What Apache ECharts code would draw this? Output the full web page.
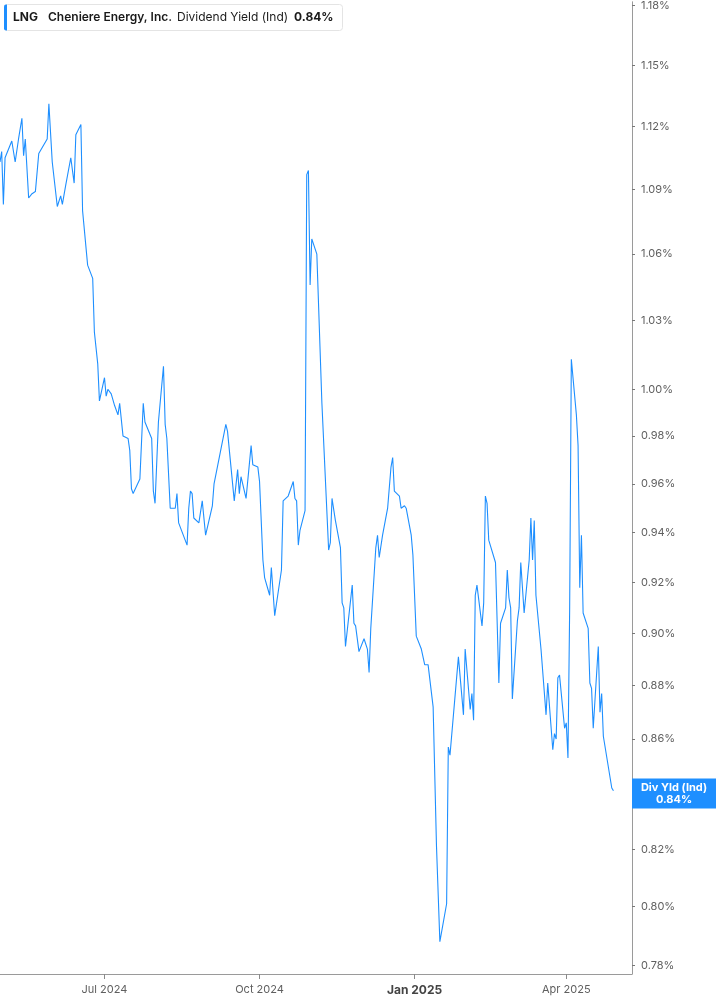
<!DOCTYPE html>
<html>
<head>
<meta charset="utf-8">
<script src="https://cdn.jsdelivr.net/npm/echarts@6/dist/echarts.min.js"></script>
<style>
html,body{margin:0;padding:0;background:#ffffff;}
#chart{width:717px;height:1005px;}
</style>
</head>
<body>
<div id="chart"></div>
<script>
// ---- data ----
const dates = [
'2024-04-30','2024-05-01','2024-05-02','2024-05-03','2024-05-07','2024-05-09','2024-05-11','2024-05-13','2024-05-14','2024-05-15',
'2024-05-17','2024-05-19','2024-05-21','2024-05-23','2024-05-28','2024-05-29','2024-05-31','2024-06-03','2024-06-05','2024-06-06',
'2024-06-08','2024-06-11','2024-06-13','2024-06-14','2024-06-17','2024-06-18','2024-06-21','2024-06-24','2024-06-25','2024-06-27',
'2024-06-28','2024-07-01','2024-07-02','2024-07-03','2024-07-05','2024-07-07','2024-07-09','2024-07-10','2024-07-12','2024-07-15',
'2024-07-16','2024-07-17','2024-07-18','2024-07-22','2024-07-24','2024-07-25','2024-07-29','2024-07-30','2024-07-31','2024-08-02',
'2024-08-05','2024-08-06','2024-08-07','2024-08-09','2024-08-12','2024-08-13','2024-08-14','2024-08-19','2024-08-20','2024-08-21',
'2024-08-22','2024-08-23','2024-08-26','2024-08-28','2024-08-30','2024-09-03','2024-09-04','2024-09-05','2024-09-11','2024-09-12',
'2024-09-16','2024-09-18','2024-09-19','2024-09-20','2024-09-23','2024-09-26','2024-09-27','2024-09-30','2024-10-01','2024-10-03',
'2024-10-04','2024-10-07','2024-10-08','2024-10-10','2024-10-14','2024-10-15','2024-10-18','2024-10-21','2024-10-22','2024-10-23',
'2024-10-24','2024-10-25','2024-10-28','2024-10-29','2024-10-30','2024-10-31','2024-11-01','2024-11-04','2024-11-07','2024-11-11',
'2024-11-12','2024-11-13','2024-11-15','2024-11-18','2024-11-19','2024-11-20','2024-11-21','2024-11-25','2024-11-26','2024-11-27',
'2024-11-29','2024-12-02','2024-12-04','2024-12-05','2024-12-06','2024-12-09','2024-12-10','2024-12-11','2024-12-13','2024-12-16',
'2024-12-17','2024-12-18','2024-12-19','2024-12-20','2024-12-23','2024-12-24','2024-12-26','2024-12-27','2024-12-30','2024-12-31',
'2025-01-02','2025-01-05','2025-01-06','2025-01-07','2025-01-09','2025-01-12','2025-01-14','2025-01-16','2025-01-20','2025-01-21',
'2025-01-22','2025-01-27','2025-01-30','2025-01-31','2025-02-03','2025-02-04','2025-02-05','2025-02-06','2025-02-07','2025-02-10',
'2025-02-11','2025-02-12','2025-02-13','2025-02-14','2025-02-18','2025-02-20','2025-02-21','2025-02-24','2025-02-25','2025-02-26',
'2025-02-27','2025-02-28','2025-03-03','2025-03-04','2025-03-05','2025-03-07','2025-03-10','2025-03-11','2025-03-12','2025-03-13',
'2025-03-14','2025-03-17','2025-03-20','2025-03-21','2025-03-24','2025-03-25','2025-03-26','2025-03-27','2025-03-28','2025-03-31',
'2025-04-01','2025-04-02','2025-04-03','2025-04-04','2025-04-07','2025-04-08','2025-04-09','2025-04-10','2025-04-11','2025-04-14',
'2025-04-15','2025-04-16','2025-04-17','2025-04-20','2025-04-21','2025-04-22','2025-04-23','2025-04-28','2025-04-29'
];
const divYield = [
1.103,1.108,1.083,1.105,1.113,1.103,1.114,1.124,1.106,1.114,
1.086,1.088,1.089,1.107,1.114,1.131,1.103,1.082,1.087,1.083,
1.092,1.105,1.093,1.116,1.121,1.080,1.055,1.049,1.025,1.011,
0.995,1.005,0.997,1.000,0.998,0.993,0.989,0.994,0.980,0.979,
0.974,0.958,0.956,0.962,0.994,0.986,0.979,0.957,0.952,0.986,
1.010,0.985,0.979,0.950,0.950,0.956,0.944,0.935,0.950,0.957,
0.956,0.946,0.944,0.953,0.939,0.951,0.960,0.960,0.985,0.982,
0.953,0.966,0.956,0.963,0.954,0.976,0.968,0.967,0.961,0.929,
0.922,0.915,0.926,0.907,0.925,0.953,0.955,0.961,0.954,0.953,
0.935,0.941,0.949,1.097,1.099,1.046,1.067,1.060,0.994,0.933,
0.936,0.954,0.945,0.934,0.912,0.910,0.895,0.919,0.904,0.903,
0.893,0.898,0.894,0.885,0.902,0.934,0.939,0.930,0.939,0.950,
0.950,0.967,0.971,0.957,0.955,0.950,0.951,0.950,0.939,0.931,
0.899,0.894,0.894,0.888,0.888,0.872,0.821,0.788,0.801,0.857,
0.854,0.891,0.869,0.894,0.871,0.877,0.867,0.915,0.919,0.903,
0.912,0.955,0.952,0.937,0.928,0.881,0.904,0.910,0.925,0.914,
0.910,0.875,0.905,0.910,0.928,0.908,0.929,0.946,0.929,0.945,
0.915,0.894,0.869,0.881,0.856,0.862,0.860,0.883,0.884,0.864,
0.866,0.853,0.909,1.013,0.989,0.976,0.918,0.939,0.908,0.902,
0.881,0.879,0.864,0.895,0.870,0.877,0.861,0.842,0.841
];
const yTickValues = [0.78,0.80,0.82,0.84,0.86,0.88,0.90,0.92,0.94,0.96,0.98,1.00,1.03,1.06,1.09,1.12,1.15,1.18];
const monthNames = ['Jan','Feb','Mar','Apr','May','Jun','Jul','Aug','Sep','Oct','Nov','Dec'];
const tickerText = 'LNG';
const companyText = 'Cheniere Energy, Inc.';
const metricText = 'Dividend Yield (Ind)';
const lastValueText = '0.84%';
const tagTitle = 'Div Yld (Ind)';
const xMin = '2024-04-30';
const xMax = '2025-05-10';
const yMin = 0.7771;
const yMax = 1.1819;

// ---- chart ----
const BLUE = '#1e8fff';
const FONT = 'Inter, "Noto Sans", sans-serif';
const DAY = 86400000;
const seriesData = dates.map((d, i) => [d, divYield[i]]);
const lastVal = divYield[divYield.length - 1];

const chart = echarts.init(document.getElementById('chart'), null, {renderer: 'canvas'});
chart.setOption({
  animation: false,
  backgroundColor: '#ffffff',
  grid: {left: 0, right: 85, top: 0, bottom: 31, containLabel: false},
  xAxis: {
    type: 'time',
    min: xMin,
    max: xMax,
    minInterval: 100 * DAY,
    maxInterval: 100 * DAY,
    splitLine: {show: false},
    axisLine: {show: true, lineStyle: {color: '#9a9a9a', width: 1}},
    axisTick: {show: true, length: 5, lineStyle: {color: '#8a8a8a'}},
    axisLabel: {
      show: true,
      margin: 10,
      fontFamily: FONT,
      fontSize: 11,
      color: '#5f5f5f',
      formatter: function (v) {
        const d = new Date(v);
        const m = d.getMonth();
        const s = monthNames[m] + ' ' + d.getFullYear();
        return m === 0 ? '{b|' + s + '}' : s;
      },
      rich: {b: {fontFamily: FONT, fontSize: 12, fontWeight: 'bold', color: '#444'}}
    }
  },
  yAxis: {
    type: 'log',
    logBase: 10,
    position: 'right',
    min: yMin,
    max: yMax,
    splitLine: {show: false},
    minorSplitLine: {show: false},
    axisLine: {show: true, lineStyle: {color: '#9a9a9a', width: 1}},
    axisTick: {show: true, customValues: yTickValues, length: 3, lineStyle: {color: '#777'}},
    axisLabel: {
      show: true,
      customValues: yTickValues,
      margin: 9,
      fontFamily: FONT,
      fontSize: 11,
      color: '#5f5f5f',
      formatter: function (v) { return Number(v).toFixed(2) + '%'; }
    }
  },
  series: [{
    type: 'line',
    data: seriesData,
    showSymbol: false,
    symbol: 'none',
    lineStyle: {color: BLUE, width: 1.1},
    z: 3,
    markLine: {
      silent: true,
      symbol: ['none', 'none'],
      lineStyle: {width: 0, color: 'rgba(0,0,0,0)', type: 'solid'},
      animation: false,
      z: 10,
      data: [{yAxis: lastVal}],
      label: {
        show: true,
        position: 'end',
        distance: 42,
        align: 'center',
        verticalAlign: 'middle',
        formatter: tagTitle + '\n' + lastValueText,
        backgroundColor: BLUE,
        color: '#ffffff',
        fontFamily: FONT,
        fontSize: 11,
        fontWeight: 'bold',
        lineHeight: 12,
        width: 76,
        padding: [3, 4, 3, 4]
      }
    }
  }],
  graphic: [
    {type: 'rect', z: 100, shape: {x: 4.5, y: 4.5, width: 338, height: 26, r: 3},
      style: {fill: '#ffffff', stroke: '#e4e4e4', lineWidth: 1}},
    {type: 'rect', z: 101, shape: {x: 4, y: 4.5, width: 3, height: 26, r: [2, 0, 0, 2]},
      style: {fill: BLUE}},
    {type: 'text', z: 102, x: 13, y: 17,
      style: {text: tickerText, fontFamily: FONT, fontSize: 12, fontWeight: 'bold', fill: '#1a1a1a', verticalAlign: 'middle'}},
    {type: 'text', z: 102, x: 48, y: 17,
      style: {text: companyText, fontFamily: FONT, fontSize: 12, fontWeight: 600, fill: '#1a1a1a', verticalAlign: 'middle'}},
    {type: 'text', z: 102, x: 177, y: 17,
      style: {text: metricText, fontFamily: FONT, fontSize: 12, fontWeight: 'normal', fill: '#1a1a1a', verticalAlign: 'middle'}},
    {type: 'text', z: 102, x: 294, y: 17,
      style: {text: lastValueText, fontFamily: FONT, fontSize: 12, fontWeight: 'bold', fill: '#1a1a1a', verticalAlign: 'middle'}}
  ]
});
</script>
</body>
</html>
